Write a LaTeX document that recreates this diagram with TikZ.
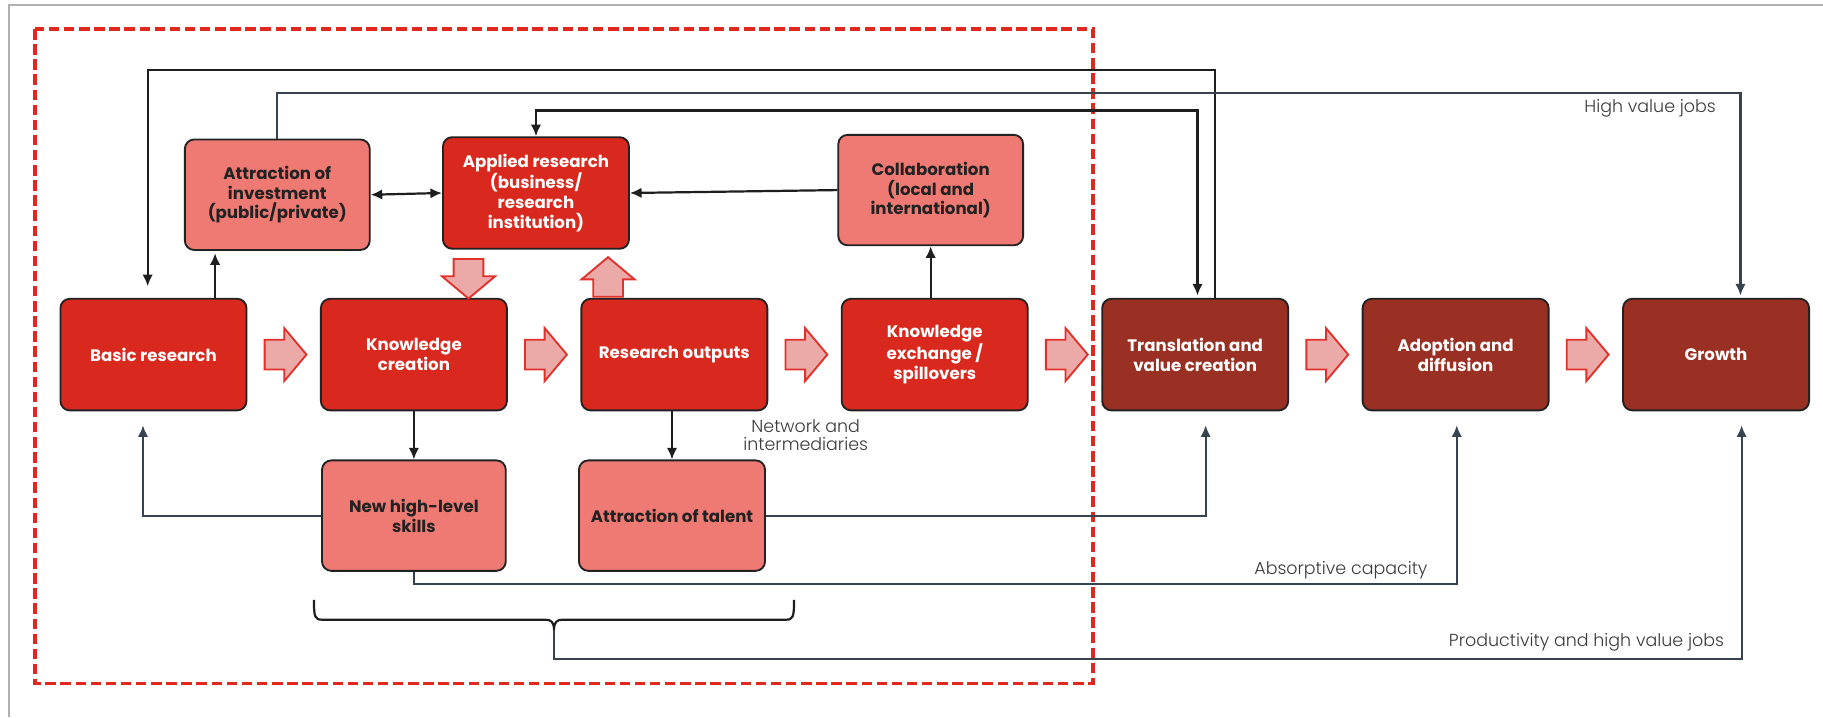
\documentclass[tikz,border=0pt]{standalone}
\usepackage{fontspec}
\setmainfont{Poppins}
\newfontfamily\lightfont{Poppins}[UprightFont=* Light]
\usetikzlibrary{arrows.meta,shapes.arrows,calc}

\definecolor{boxred}{HTML}{D9281D}
\definecolor{boxpink}{HTML}{EE7A73}
\definecolor{boxdark}{HTML}{9A3024}
\definecolor{edgedark}{HTML}{222222}
\definecolor{flowfill}{HTML}{EBAAA8}
\definecolor{flowedge}{HTML}{E2302A}
\definecolor{conngray}{HTML}{37434E}
\definecolor{connblk}{HTML}{1E1E1E}
\definecolor{labeltext}{HTML}{3A3A3A}
\definecolor{framegray}{HTML}{B0B0B0}
\definecolor{zonered}{HTML}{E0281E}

\tikzset{
  box/.style={draw=edgedark, line width=1.6pt, rounded corners=8pt,
    minimum width=160pt, minimum height=96pt, inner sep=2pt, align=center,
    font=\fontsize{14.3}{17}\selectfont\bfseries},
  redbox/.style={box, fill=boxred, text=white},
  pinkbox/.style={box, fill=boxpink, text=edgedark},
  darkbox/.style={box, fill=boxdark, text=white},
  flow/.style={shape=single arrow, draw=flowedge, fill=flowfill, line width=1.6pt,
    inner sep=0pt, inner ysep=12pt, minimum height=36pt,
    single arrow head extend=10pt, single arrow tip angle=100, anchor=tail},
  blk/.style={draw=connblk, line width=1.9pt},
  gry/.style={draw=conngray, line width=1.9pt},
  tip/.style={-{Latex[length=10pt,width=9pt]}},
  tips/.style={{Latex[length=10pt,width=9pt]}-{Latex[length=10pt,width=9pt]}},
  lbl/.style={text=labeltext, inner sep=0pt, font=\lightfont\fontsize{15}{15.5}\selectfont},
}

\begin{document}
\begin{tikzpicture}[x=1pt, y=-1pt]
\useasboundingbox (0,0) rectangle (1568,617);

% page frame
\draw[framegray, line width=1.5pt] (8,617) -- (8,4) -- (1568,4);

% research zone
\draw[zonered, line width=2.8pt, dash pattern=on 9pt off 4pt] (30,25) rectangle (940,588);

% main chain
\node[redbox]  (basic)   at (132,305)  {Basic research};
\node[redbox]  (know)    at (356,305)  {Knowledge\\creation};
\node[redbox]  (outputs) at (580,305)  {Research outputs};
\node[redbox]  (kex)     at (804,305)  {Knowledge\\exchange /\\spillovers};
\node[darkbox] (trans)   at (1028,305) {Translation and\\value creation};
\node[darkbox] (adopt)   at (1252,305) {Adoption and\\diffusion};
\node[darkbox] (growth)  at (1476,305) {Growth};

% upper row
\node[pinkbox, minimum width=159pt, minimum height=95pt] (inv) at (238.5,167.5) {Attraction of\\investment\\(public/private)};
\node[redbox] (applied) at (461,166) {Applied research\\(business/\\research\\institution)};
\node[pinkbox, minimum width=159pt, minimum height=95pt] (collab) at (800.5,163.5) {Collaboration\\(local and\\international)};

% lower row
\node[pinkbox, minimum width=158pt, minimum height=95pt] (skills) at (356,443.5) {New high-level\\skills};
\node[pinkbox, minimum height=95pt] (talent) at (578,443.5) {Attraction of talent};

% flow arrows along the chain
\node[flow] (f1) at ($(basic.east)+(14,0)$) {};
\node[flow] (f2) at ($(know.east)+(14,0)$) {};
\node[flow] (f3) at ($(outputs.east)+(14,0)$) {};
\node[flow] (f4) at ($(kex.east)+(14,0)$) {};
\node[flow] (f5) at ($(trans.east)+(14,0)$) {};
\node[flow] (f6) at ($(adopt.east)+(14,0)$) {};
\node[flow, rotate=-90, minimum height=34pt] (fdown) at (403,222) {};
\node[flow, rotate=90, minimum height=34pt]  (fup)   at (523,256) {};

% lanes
\coordinate (laneTop)     at (0,60);
\coordinate (laneJobs)    at (0,80);
\coordinate (laneApplied) at (0,95);
\coordinate (laneSkills)  at (0,502);
\coordinate (laneProd)    at (0,567);
\coordinate (braceL) at (270,516);
\coordinate (braceR) at (683,516);
\coordinate (braceTip) at (476.5,542);

% top loops
\draw[blk, tip] ([xshift=17pt]trans.north) |- ([xshift=-5pt]basic.north |- laneTop)
  -- ([xshift=-5pt, yshift=10pt]basic.north);
\draw[gry, tip] (inv.north) |- ([xshift=21pt]growth.north |- laneJobs)
  -- ([xshift=21pt, yshift=2pt]growth.north);
\draw[blk, tips] (applied.north) |- ([xshift=2pt]trans.north |- laneApplied)
  -- ([xshift=2pt, yshift=2pt]trans.north);

% links inside the zone
\draw[blk, tips] (inv.east) -- (applied.west);
\draw[blk, tip] (collab.west) -- (applied.east);
\draw[blk, tip] ([xshift=53pt]basic.north) -- ([xshift=53pt, yshift=-2pt]basic.north |- inv.south);
\draw[blk, tip] (collab.south |- kex.north) -- (collab.south);
\draw[blk, tip] (know.south) -- (skills.north);
\draw[blk, tip] (talent.north |- outputs.south) -- (talent.north);

% lower loops
\draw[gry, tip] (skills.west) -| ([xshift=-9pt, yshift=-12pt]basic.south);
\draw[gry, tip] (talent.east) -| ([xshift=9pt, yshift=-12pt]trans.south);
\draw[gry, tip] (skills.south) |- ([xshift=1pt]adopt.south |- laneSkills)
  -- ([xshift=1pt, yshift=-12pt]adopt.south);

% brace grouping skills and talent
\draw[blk] (braceL) .. controls (270,531) and (271,533) .. (277,533)
  -- (469,533) .. controls (474,533) and (476.5,535) .. (braceTip)
  .. controls (476.5,535) and (479,533) .. (484,533)
  -- (676,533) .. controls (682,533) and (683,531) .. (braceR);
\draw[gry, tip] (braceTip) |- ([xshift=22pt]growth.south |- laneProd)
  -- ([xshift=22pt, yshift=-12pt]growth.south);

% labels
\node[lbl, anchor=base east] (hvj)  at (1476,97)  {High value jobs};
\node[lbl, anchor=base east] (absc) at (1228,494) {Absorptive capacity};
\node[lbl, anchor=base east] (prod) at (1483,556) {Productivity and high value jobs};
\node[lbl, align=center] (netw) at (693,374) {Network and\\intermediaries};
\end{tikzpicture}
\end{document}
